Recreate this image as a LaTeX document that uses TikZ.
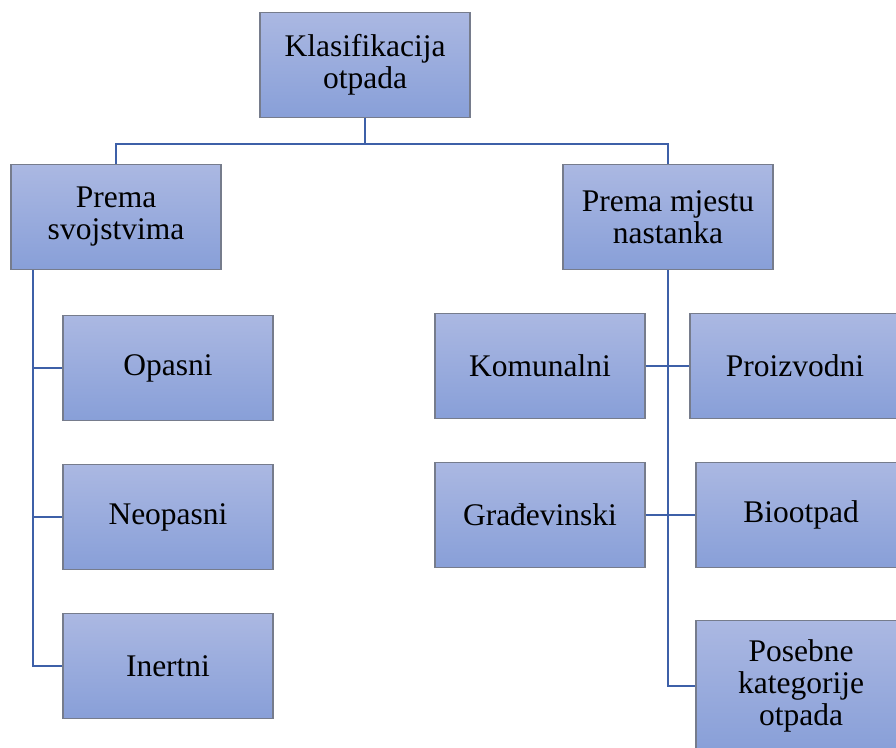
\documentclass[tikz,border=0pt]{standalone}
\usepackage{fontspec}
\setmainfont{Liberation Serif}
\usetikzlibrary{positioning}

\definecolor{boxtop}{RGB}{171,184,226}
\definecolor{boxbot}{RGB}{136,159,216}
\definecolor{boxline}{RGB}{118,124,140}
\definecolor{linkblue}{RGB}{62,96,168}

\tikzset{
	klasa/.style={draw=boxline, line width=1.4pt, top color=boxtop, bottom color=boxbot,
		minimum width=210pt, minimum height=105pt, inner sep=0pt, align=center,
		font=\fontsize{31.5}{32}\selectfont},
	veza/.style={draw=linkblue, line width=2.6pt}
}

\begin{document}
\begin{tikzpicture}[x=1pt, y=-1pt]
	\useasboundingbox (0,0) rectangle (896,747);
	\clip (0,0) rectangle (896,747);
	
	\node[klasa] (klas) at (365,65) {Klasifikacija\\otpada};%vrh
	\node[klasa] (svoj) at (116,217) {Prema\\svojstvima};
	\node[klasa] (mjesto) at (668,217) {Prema mjestu\\nastanka};
	
	\node[klasa] (opas) at (168,368) {Opasni};%lijeva grana
	\node[klasa] (neopas) at (168,517) {Neopasni};
	\node[klasa] (inert) at (168,666) {Inertni};
	
	\node[klasa] (komun) at (540,366) {Komunalni};%desna grana
	\node[klasa] (proiz) at (795,366) {Proizvodni};
	\node[klasa] (grad) at (540,515) {Građevinski};
	\node[klasa] (bio) at (801,515) {Biootpad};
	\node[klasa, minimum height=131pt] (poseb) at (801,686) {Posebne\\kategorije\\otpada};
	
	\coordinate (g) at (365,144);
	\coordinate (lk) at (33,666);
	
	\draw[veza] (klas.south) -- (g);
	\draw[veza] (svoj.north) |- (g) -| (mjesto.north);
	
	\draw[veza] (svoj.south -| lk) |- (inert.west);
	\draw[veza] (opas.west) -- (opas.west -| lk);
	\draw[veza] (neopas.west) -- (neopas.west -| lk);
	
	\draw[veza] (mjesto.south) |- (poseb.west);
	\draw[veza] (komun.east) -- (proiz.west);
	\draw[veza] (grad.east) -- (bio.west);
\end{tikzpicture}
\end{document}
